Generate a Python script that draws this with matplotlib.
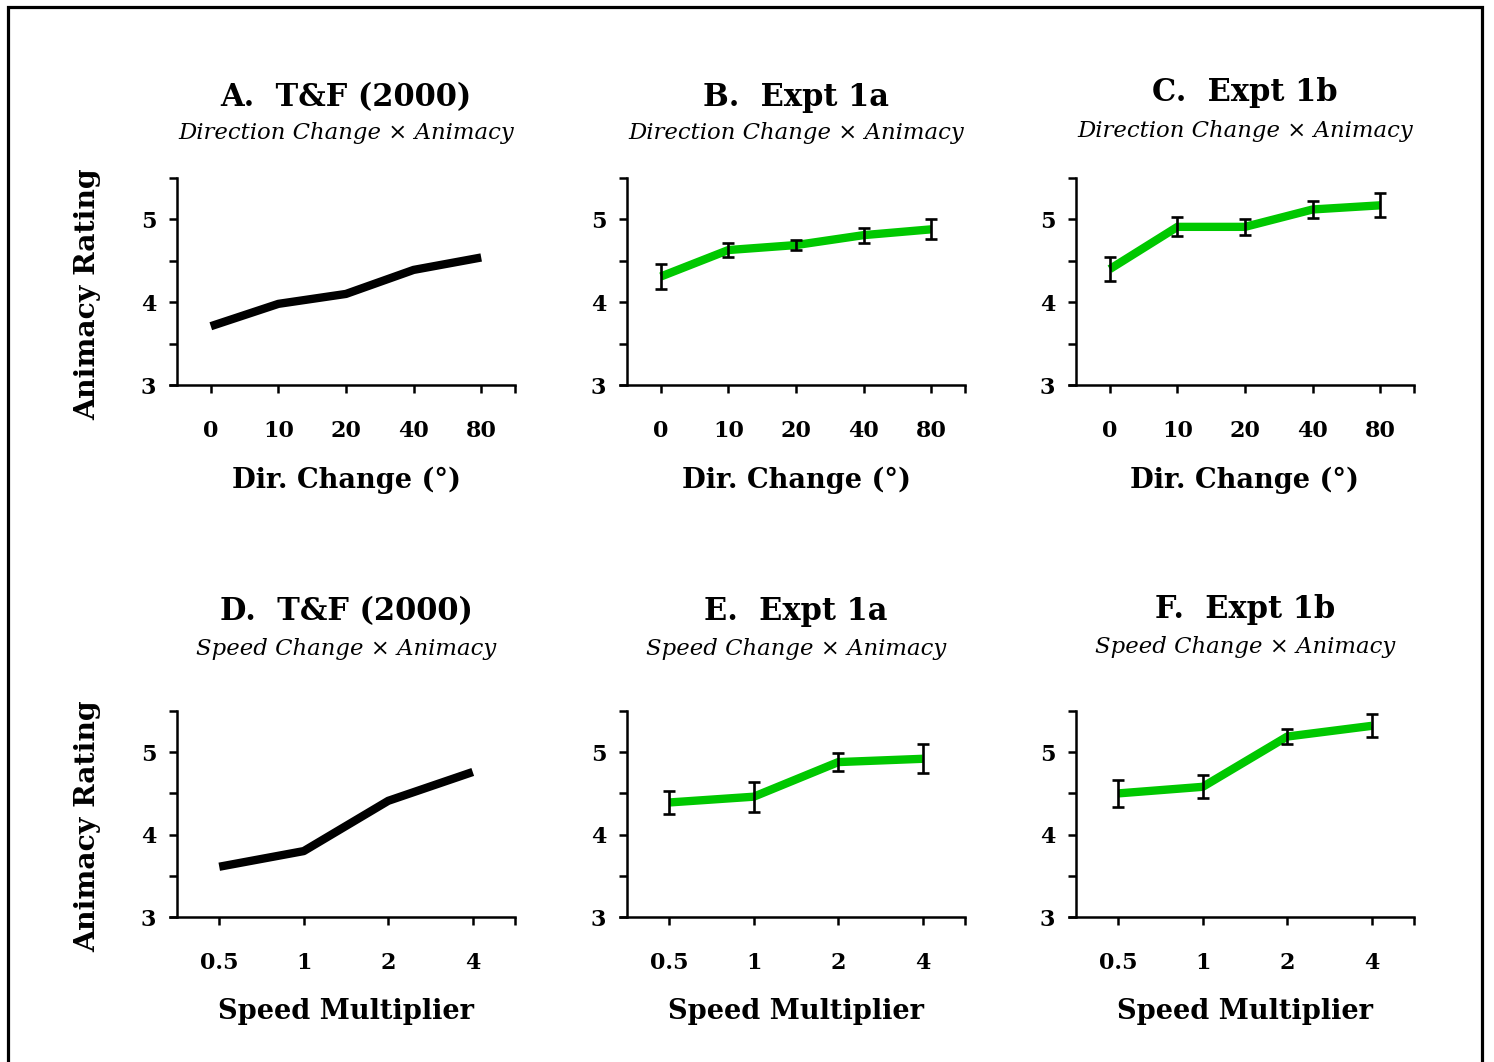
import numpy as np
import matplotlib.pyplot as plt
import matplotlib.transforms as mtransforms
from matplotlib.patches import Rectangle

plt.rcParams['font.family'] = ['DejaVu Serif']

# ── data ─────────────────────────────────────────────────────────────────────
dir_labels = ["0", "10", "20", "40", "80"]
speed_labels = ["0.5", "1", "2", "4"]

tf_dir = [3.71, 3.98, 4.10, 4.39, 4.54]
e1a_dir = [4.31, 4.63, 4.69, 4.81, 4.88]
e1a_dir_err = [0.155, 0.09, 0.065, 0.09, 0.12]
e1b_dir = [4.40, 4.91, 4.91, 5.12, 5.17]
e1b_dir_err = [0.14, 0.115, 0.095, 0.10, 0.145]

tf_speed = [3.61, 3.80, 4.41, 4.76]
e1a_speed = [4.39, 4.46, 4.88, 4.92]
e1a_speed_err = [0.135, 0.18, 0.11, 0.175]
e1b_speed = [4.50, 4.58, 5.19, 5.32]
e1b_speed_err = [0.16, 0.14, 0.09, 0.14]

titles = ["A.  T&F (2000)", "B.  Expt 1a", "C.  Expt 1b",
          "D.  T&F (2000)", "E.  Expt 1a", "F.  Expt 1b"]
subtitles = ["Direction Change × Animacy"] * 3 + ["Speed Change × Animacy"] * 3

GREEN = "#00c800"

fig = plt.figure(figsize=(14.94, 10.62), dpi=100)

lefts = [170 / 1494, 620 / 1494, 1069 / 1494]
width = 345 / 1494
rows = [(1 - 385 / 1062, 207 / 1062), (1 - 917 / 1062, 206 / 1062)]

panels = [
    (tf_dir, None, dir_labels, "black"),
    (e1a_dir, e1a_dir_err, dir_labels, GREEN),
    (e1b_dir, e1b_dir_err, dir_labels, GREEN),
    (tf_speed, None, speed_labels, "black"),
    (e1a_speed, e1a_speed_err, speed_labels, GREEN),
    (e1b_speed, e1b_speed_err, speed_labels, GREEN),
]
title_y = [(1.391, 1.217), (1.391, 1.217), (1.411, 1.227),
           (1.481, 1.301), (1.481, 1.301), (1.495, 1.311)]

for i, (vals, err, labels, color) in enumerate(panels):
    r, c = divmod(i, 3)
    bottom, height = rows[r]
    ax = fig.add_axes([lefts[c], bottom, width, height])
    n = len(vals)
    x = np.arange(n)
    ax.plot(x, vals, color=color, lw=6, solid_capstyle="butt", zorder=2)
    if err is not None:
        ax.errorbar(x, vals, yerr=err, fmt="none", ecolor="black",
                    elinewidth=1.9, capsize=4, capthick=1.9, zorder=3)

    ext = 7 / (338 / n)
    ax.set_xlim(-0.5 - ext, n - 0.5)
    ax.set_ylim(3, 5.5)
    ax.spines["left"].set_position(("data", -0.5))
    for s in ["top", "right"]:
        ax.spines[s].set_visible(False)
    for s in ["left", "bottom"]:
        ax.spines[s].set_linewidth(1.8)

    ax.set_xticks(list(x) + [n - 0.5])
    ax.set_xticklabels(labels + [""])
    ax.set_yticks([3, 3.5, 4, 4.5, 5, 5.5])
    ax.set_yticklabels(["3", "", "4", "", "5", ""])
    ax.tick_params(axis="x", length=6, width=1.8, pad=19, labelsize=16)
    ax.tick_params(axis="y", length=6, width=1.8, pad=9, labelsize=16)
    for t in ax.get_xticklabels() + ax.get_yticklabels():
        t.set_fontweight("bold")

    trans = mtransforms.blended_transform_factory(ax.transData, ax.transAxes)
    xc = (n - 1) / 2
    ty, sy = title_y[i]
    ax.text(xc, ty, titles[i], transform=trans, ha="center", va="center",
            fontsize=22, fontweight="bold")
    ax.text(xc, sy, subtitles[i], transform=trans, ha="center", va="center",
            fontsize=16.4, style="italic")
    xlab = "Dir. Change (°)" if r == 0 else "Speed Multiplier"
    ax.text(xc, -0.46, xlab, transform=trans, ha="center", va="center",
            fontsize=19.6, fontweight="bold")
    if c == 0:
        ax.text(-0.238, 0.44, "Animacy Rating", transform=ax.transAxes,
                rotation=90, ha="center", va="center",
                fontsize=20.3, fontweight="bold")

# frame around the whole figure
fig.patches.append(Rectangle((7.5 / 1494, -0.02), (1481.5 - 7.5) / 1494,
                             1.02 - 6.5 / 1062, transform=fig.transFigure,
                             fill=False, lw=2.3, edgecolor="black"))

fig.savefig("out.png", dpi=100)
